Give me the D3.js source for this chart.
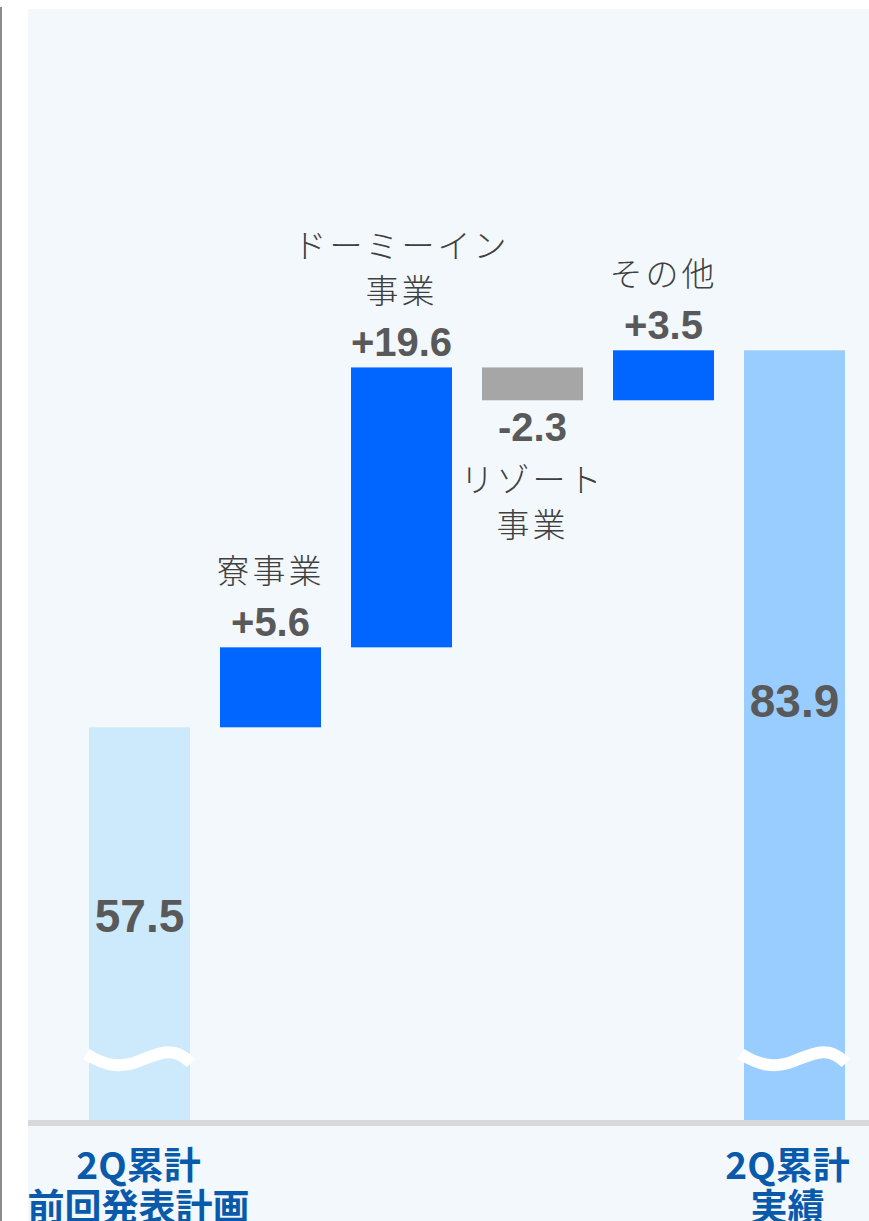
<!DOCTYPE html>
<html>
<head>
<meta charset="utf-8">
<script src="https://cdn.jsdelivr.net/npm/d3@7"></script>
<style>
  body { margin: 0; background: #fff; }
  svg { display: block; }
</style>
</head>
<body>
<div id="chart"></div>
<script>
// waterfall: plan -> segment deltas -> actual (axis broken at 30)
const categories = ["plan", "dorm", "dormyinn", "resort", "other", "actual"];
const categoryLines = [["2Q累計", "前回発表計画"], ["寮事業"], ["ドーミーイン", "事業"], ["リゾート", "事業"], ["その他"], ["2Q累計", "実績"]];
const values = [57.5, 5.6, 19.6, -2.3, 3.5, 83.9];
const valueLabels = ["57.5", "+5.6", "+19.6", "-2.3", "+3.5", "83.9"];
const kinds = ["total", "delta", "delta", "delta", "delta", "total"];
const axisStart = 30;

const width = 869, height = 1221;
const baseY = 1120;

const svg = d3.select("#chart").append("svg").attr("width", width).attr("height", height);

// panel + left rule
svg.append("rect").attr("x", 28).attr("y", 9).attr("width", width - 28).attr("height", height - 9).attr("fill", "#f2f8fc");
svg.append("rect").attr("x", 0).attr("y", 7).attr("width", 2).attr("height", height - 7).attr("fill", "#8c8c8c");

const x = d3.scaleBand().domain(categories).range([74, 860]).paddingInner(0.229).paddingOuter(0.1145);
const y = d3.scaleLinear().domain([axisStart, 108]).range([baseY, baseY - 78 * 14.28]);

// running totals
let run = 0;
const bars = categories.map((c, i) => {
  let lo, hi;
  if (kinds[i] === "total") { lo = axisStart; hi = values[i]; run = values[i]; }
  else { const s = run; run += values[i]; lo = Math.min(s, run); hi = Math.max(s, run); }
  return {c, i, lo, hi, v: values[i], kind: kinds[i]};
});

const fillFor = d => {
  if (d.kind === "total") return d.i === 0 ? "#cdeafd" : "#99ccff";
  return d.v < 0 ? "#a6a6a6" : "#0066ff";
};

svg.selectAll("rect.bar").data(bars).enter().append("rect")
  .attr("class", "bar")
  .attr("x", d => x(d.c)).attr("width", x.bandwidth())
  .attr("y", d => y(d.hi)).attr("height", d => y(d.lo) - y(d.hi))
  .attr("fill", fillFor);

// break marks on the total bars
bars.filter(d => d.kind === "total").forEach(d => {
  const x0 = x(d.c), b = baseY;
  svg.append("path")
    .attr("d", `M${x0 - 3},${b - 66} C${x0 + 15},${b - 55} ${x0 + 30},${b - 51} ${x0 + 50},${b - 59} S${x0 + 85},${b - 75} ${x0 + 102},${b - 57}`)
    .attr("fill", "none").attr("stroke", "#fff").attr("stroke-width", 12);
});

// baseline
svg.append("rect").attr("x", 28).attr("y", baseY).attr("width", width - 28).attr("height", 6).attr("fill", "#d9d9d9");

const numFont = "'Liberation Sans', Arial, sans-serif";
const jpFont = "'Noto Sans CJK JP', 'Noto Sans', sans-serif";

bars.forEach(d => {
  const cx = x(d.c) + x.bandwidth() / 2;
  if (d.kind === "total") {
    const frac = d.i === 0 ? 0.48 : 0.455;
    svg.append("text").attr("x", cx).attr("y", y(d.hi) + (y(d.lo) - y(d.hi)) * frac)
      .attr("text-anchor", "middle").attr("dominant-baseline", "central")
      .attr("font-family", numFont).attr("font-weight", "bold").attr("font-size", 46)
      .attr("fill", "#595959").text(valueLabels[d.i]);
    // category under the axis
    categoryLines[d.i].forEach((t, k) => {
      svg.append("text").attr("x", cx + (d.i === 0 ? -1 : -7)).attr("y", 1163 + k * 42)
        .attr("text-anchor", "middle").attr("dominant-baseline", "central")
        .attr("font-family", jpFont).attr("font-weight", "bold").attr("font-size", 37)
        .attr("fill", "#0a5aab").text(t);
    });
    return;
  }
  let valY, lineYs;
  const lines = categoryLines[d.i];
  if (d.v >= 0) {
    valY = y(d.hi) - 25;
    lineYs = lines.map((t, k) => valY - 53 - (lines.length - 1 - k) * 45);
  } else {
    valY = y(d.lo) + 27;
    lineYs = lines.map((t, k) => valY + 51 + k * 45);
  }
  svg.append("text").attr("x", cx).attr("y", valY)
    .attr("text-anchor", "middle").attr("dominant-baseline", "central")
    .attr("font-family", numFont).attr("font-weight", "bold").attr("font-size", 40)
    .attr("fill", "#595959").text(valueLabels[d.i]);
  lines.forEach((t, k) => {
    svg.append("text").attr("x", cx).attr("y", lineYs[k])
      .attr("text-anchor", "middle").attr("dominant-baseline", "central")
      .attr("font-family", jpFont).attr("font-weight", 300).attr("font-size", 33)
      .attr("letter-spacing", 3)
      .attr("fill", "#404040").text(t);
  });
});
</script>
</body>
</html>
